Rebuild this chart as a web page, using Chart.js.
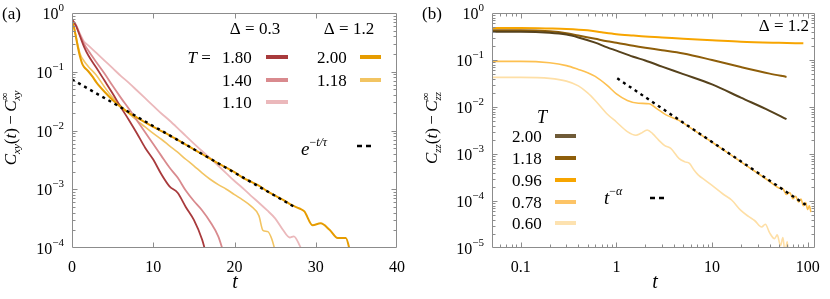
<!DOCTYPE html>
<html>
<head>
<meta charset="utf-8">
<script src="https://cdn.jsdelivr.net/npm/chart.js@4.4.0/dist/chart.umd.min.js"></script>
<style>
  html, body { margin: 0; padding: 0; background: #fff; }
  #wrap { position: relative; width: 830px; height: 299px; }
  #wrap canvas { position: absolute; top: 0; }
  #chartA { left: 0; }
  #chartB { left: 415px; }
</style>
</head>
<body>
<div id="wrap">
  <canvas id="chartA" width="415" height="299"></canvas>
  <canvas id="chartB" width="415" height="299"></canvas>
</div>
<script>
// ---- Panel (a): C_xy(t) - C_xy^inf vs t (lin-log) ----
const tA_180 = [0, 0.5, 1, 1.5, 2, 3, 4, 5, 6, 7, 8, 9, 10, 11, 12, 13, 14, 15, 16, 16.6];
const cA_180 = [0.776, 0.603, 0.398, 0.263, 0.191, 0.117, 0.0708, 0.0427, 0.0251, 0.0151, 0.0089, 0.0051, 0.0032, 0.0018, 0.00112, 0.00087, 0.0005, 0.0003, 0.000141, 0.000071];

const tA_140 = [0, 0.5, 1, 1.5, 2, 3, 4, 5, 6, 7, 8, 9, 10, 11, 12, 13, 14, 15, 16, 17, 18, 18.6, 19.2];
const cA_140 = [0.776, 0.603, 0.417, 0.295, 0.229, 0.145, 0.0933, 0.0575, 0.0363, 0.0234, 0.0148, 0.0093, 0.0059, 0.0037, 0.00234, 0.00158, 0.00095, 0.00063, 0.00044, 0.00028, 0.000158, 0.000089, 0.00005];

const tA_110 = [0, 0.5, 1, 1.5, 2, 3, 4, 5, 6, 7, 8, 9, 10, 11, 12, 13, 14, 15, 16, 17, 18, 19, 20, 21, 22, 23, 24, 25, 26, 26.8, 27.3, 28, 28.6];
const cA_110 = [0.776, 0.631, 0.437, 0.324, 0.282, 0.209, 0.155, 0.115, 0.0851, 0.0646, 0.0479, 0.0355, 0.0263, 0.0195, 0.0148, 0.011, 0.0081, 0.006, 0.00447, 0.00339, 0.00251, 0.00186, 0.00138, 0.00105, 0.00078, 0.00059, 0.00044, 0.00032, 0.0002, 0.000151, 0.000158, 0.000112, 0.000071];

const tA_200 = [0, 0.25, 0.5, 0.75, 1, 1.25, 1.5, 2, 2.5, 3, 4, 5, 6, 7, 8, 9, 10, 11, 12, 13, 14, 15, 16, 17, 18, 19, 20, 21, 22, 23, 24, 25, 26, 27, 28, 28.6, 29.6, 30.6, 31.7, 32.7, 33.7, 34.3];
const cA_200 = [0.724, 0.562, 0.38, 0.251, 0.178, 0.138, 0.12, 0.102, 0.0832, 0.0661, 0.0457, 0.0331, 0.0251, 0.02, 0.0166, 0.0138, 0.0115, 0.0098, 0.0083, 0.0069, 0.00575, 0.00479, 0.00398, 0.00331, 0.00275, 0.00234, 0.00195, 0.00158, 0.00135, 0.00115, 0.00093, 0.00078, 0.00066, 0.00054, 0.00047, 0.00042, 0.000245, 0.000263, 0.000204, 0.000148, 0.000148, 0.000079];

const tA_118 = [0, 0.25, 0.5, 0.75, 1, 1.5, 2, 3, 4, 5, 6, 7, 8, 9, 10, 11, 12, 13, 14, 15, 16, 17, 18, 19, 20, 21, 22, 23, 23.5, 24.1, 24.6, 25.1];
const cA_118 = [0.724, 0.575, 0.398, 0.275, 0.2, 0.151, 0.123, 0.0871, 0.055, 0.0363, 0.0263, 0.0195, 0.0148, 0.0115, 0.0089, 0.0071, 0.0055, 0.00427, 0.00324, 0.00251, 0.0019, 0.00148, 0.0012, 0.001, 0.00081, 0.00066, 0.00052, 0.000355, 0.0002, 0.00019, 0.000141, 0.000079];

// exponential fit e^{-t/tau}
const tA_fit = [0, 27.6];
const cA_fit = [0.074, 0.00048];

const xTicksA = [0, 10, 20, 30, 40];
const yTicksA = [1e-4, 1e-3, 1e-2, 1e-1, 1];
const yTickExpA = ['−4', '−3', '−2', '−1', '0'];

// ---- Panel (b): C_zz(t) - C_zz^inf vs t (log-log), Delta = 1.2 ----
const tB_200 = [0.05, 0.1, 0.2, 0.3, 0.4, 0.6, 0.8, 1, 1.5, 2, 3, 5, 10, 20, 40, 60];
const cB_200 = [0.398, 0.398, 0.38, 0.347, 0.302, 0.234, 0.186, 0.158, 0.117, 0.0977, 0.0724, 0.0501, 0.0302, 0.0158, 0.0083, 0.0055];

const tB_118 = [0.05, 0.1, 0.2, 0.3, 0.4, 0.6, 0.8, 1, 1.5, 2, 3, 5, 10, 20, 40, 60];
const cB_118 = [0.427, 0.427, 0.407, 0.372, 0.331, 0.282, 0.251, 0.234, 0.2, 0.182, 0.162, 0.138, 0.1, 0.0708, 0.0513, 0.0437];

const tB_096 = [0.05, 0.1, 0.2, 0.3, 0.5, 0.7, 1, 1.5, 2, 3, 5, 10, 20, 50, 90];
const cB_096 = [0.479, 0.479, 0.468, 0.457, 0.427, 0.389, 0.355, 0.331, 0.316, 0.302, 0.282, 0.263, 0.245, 0.232, 0.226];

const tB_078 = [0.05, 0.1, 0.2, 0.3, 0.4, 0.5, 0.6, 0.8, 1, 1.3, 1.7, 2.2, 2.6, 3.3, 4.5, 6, 8, 10, 15, 20, 30, 40, 50, 55, 60, 65, 70, 75, 80, 85, 90, 95, 100, 104, 108];
const cB_078 = [0.0933, 0.0933, 0.0871, 0.0759, 0.0631, 0.0537, 0.0447, 0.0288, 0.019, 0.0138, 0.012, 0.0117, 0.0095, 0.0068, 0.0052, 0.00355, 0.0024, 0.00178, 0.00102, 0.00068, 0.00039, 0.00026, 0.00019, 0.000182, 0.000138, 0.000151, 0.000112, 0.000126, 0.000095, 0.00011, 0.000079, 0.000093, 0.000066, 0.000079, 0.000058];

const tB_060 = [0.05, 0.1, 0.2, 0.3, 0.4, 0.5, 0.6, 0.8, 1, 1.3, 1.6, 1.8, 2.1, 2.4, 2.75, 3.2, 3.7, 4.5, 5.2, 5.8, 6.5, 7.2, 8.5, 10, 13, 16, 20, 24, 28, 33, 36, 40, 45, 48, 52, 55, 58, 61, 64];
const cB_060 = [0.0427, 0.0427, 0.0407, 0.0355, 0.0282, 0.02, 0.0138, 0.0071, 0.0048, 0.003, 0.00251, 0.00275, 0.00324, 0.00269, 0.002, 0.00151, 0.00132, 0.00081, 0.00068, 0.00063, 0.00045, 0.000355, 0.000275, 0.000214, 0.000141, 0.000105, 0.000063, 0.000047, 0.000038, 0.000028, 0.000032, 0.000021, 0.0000158, 0.000019, 0.0000112, 0.0000166, 0.0000079, 0.0000138, 0.000005];

// power-law fit t^{-alpha}
const tB_fit = [1.02, 96];
const cB_fit = [0.0407, 0.000082];

const xTicksB = [0.1, 1, 10, 100];
const xTickLabelsB = ['0.1', '1', '10', '100'];
const yTicksB = [1e-5, 1e-4, 1e-3, 1e-2, 1e-1, 1];
const yTickExpB = ['−5', '−4', '−3', '−2', '−1', '0'];

// ---- styling ----
const SERIF = '"Liberation Serif", "DejaVu Serif", serif';
const font = (size, style) => (style ? style + ' ' : '') + size + 'px ' + SERIF;
const AXIS_GRAY = '#8c8c8c';

const seriesA = [
    { t: tA_fit, v: cA_fit, color: '#000000', width: 2.4, dash: [3, 4] },
    { t: tA_200, v: cA_200, color: '#e69c00', width: 2 },
    { t: tA_180, v: cA_180, color: '#a83a3c', width: 1.8 },
    { t: tA_140, v: cA_140, color: '#d98a8e', width: 1.8 },
    { t: tA_118, v: cA_118, color: '#f2c462', width: 1.6 },
    { t: tA_110, v: cA_110, color: '#ebb8bb', width: 1.8 }
];

const seriesB = [
    { t: tB_fit, v: cB_fit, color: '#000000', width: 2.4, dash: [3, 4] },
    { t: tB_078, v: cB_078, color: '#fdc050', width: 1.6 },
    { t: tB_200, v: cB_200, color: '#56421c', width: 2 },
    { t: tB_118, v: cB_118, color: '#8e5e0a', width: 2 },
    { t: tB_096, v: cB_096, color: '#f7a500', width: 2 },
    { t: tB_060, v: cB_060, color: '#fedfa6', width: 1.6 }
];

function logMinors(lo, hi) {
    const out = [];
    for (let d = Math.floor(Math.log10(lo)); d <= Math.ceil(Math.log10(hi)); d++) {
        for (let k = 2; k <= 9; k++) {
            const v = k * Math.pow(10, d);
            if (v > lo && v < hi) out.push(v);
        }
    }
    return out;
}

// text with sub/superscripts; part.stack places it over the previous part
function drawRich(ctx, parts, x, y, align) {
    const pos = [];
    let cursor = 0, lastStart = 0, lastW = 0;
    parts.forEach(p => {
        ctx.font = p.f;
        const w = ctx.measureText(p.t).width;
        if (p.stack) {
            pos.push(lastStart);
            lastW = Math.max(lastW, w);
            cursor = lastStart + lastW;
        } else {
            pos.push(cursor);
            lastStart = cursor;
            lastW = w;
            cursor += w;
        }
    });
    const x0 = align === 'right' ? x - cursor : align === 'center' ? x - cursor / 2 : x;
    parts.forEach((p, i) => {
        ctx.font = p.f;
        ctx.fillText(p.t, x0 + pos[i], y + (p.dy || 0));
    });
    return cursor;
}

function drawFrame(chart, xMajor, xMinor, yMajor, yMinor) {
    const { ctx, chartArea: a } = chart;
    const sx = chart.scales.x, sy = chart.scales.y;
    const L = Math.round(a.left) + 0.5, R = Math.round(a.right) - 0.5;
    const T = Math.round(a.top) + 0.5, B = Math.round(a.bottom) - 0.5;
    ctx.save();
    ctx.strokeStyle = AXIS_GRAY;
    ctx.lineWidth = 1;
    ctx.beginPath();
    ctx.rect(L, T, R - L, B - T);
    const vt = (vals, len) => vals.forEach(v => {
        const p = Math.round(sx.getPixelForValue(v)) + 0.5;
        if (p <= L + 1 || p >= R - 1) return;
        ctx.moveTo(p, B); ctx.lineTo(p, B - len);
        ctx.moveTo(p, T); ctx.lineTo(p, T + len);
    });
    const ht = (vals, len) => vals.forEach(v => {
        const p = Math.round(sy.getPixelForValue(v)) + 0.5;
        if (p <= T + 1 || p >= B - 1) return;
        ctx.moveTo(L, p); ctx.lineTo(L + len, p);
        ctx.moveTo(R, p); ctx.lineTo(R - len, p);
    });
    vt(xMajor, 5); vt(xMinor, 3);
    ht(yMajor, 5); ht(yMinor, 3);
    ctx.stroke();
    ctx.restore();
}

function drawYLabels(chart, ticks, exps) {
    const { ctx, chartArea: a } = chart;
    ctx.save();
    ctx.fillStyle = '#000';
    ctx.textBaseline = 'alphabetic';
    ticks.forEach((v, i) => {
        const p = chart.scales.y.getPixelForValue(v);
        drawRich(ctx, [
            { t: '10', f: font(16) },
            { t: exps[i], f: font(11), dy: -8 }
        ], a.left - 8, p + 6, 'right');
    });
    ctx.restore();
}

function drawYTitle(ctx, cx, cy, sub) {
    ctx.save();
    ctx.fillStyle = '#000';
    ctx.translate(cx, cy);
    ctx.rotate(-Math.PI / 2);
    drawRich(ctx, [
        { t: 'C', f: font(17, 'italic') },
        { t: sub, f: font(11, 'italic'), dy: 4 },
        { t: '(', f: font(17) },
        { t: 't', f: font(17, 'italic') },
        { t: ')\u2009−\u2009', f: font(17) },
        { t: 'C', f: font(17, 'italic') },
        { t: '∞', f: font(11), dy: -8 },
        { t: sub, f: font(11, 'italic'), dy: 4, stack: true }
    ], 0, 5, 'center');
    ctx.restore();
}

function legendLine(ctx, x1, x2, y, color, width, dash) {
    ctx.save();
    ctx.strokeStyle = color;
    ctx.lineWidth = width;
    ctx.setLineDash(dash || []);
    ctx.beginPath();
    ctx.moveTo(x1, y);
    ctx.lineTo(x2, y);
    ctx.stroke();
    ctx.restore();
}

function toDatasets(series) {
    return series.map(s => ({
        data: s.t.map((t, i) => ({ x: t, y: s.v[i] })),
        borderColor: s.color,
        borderWidth: s.width,
        borderDash: s.dash || [],
        pointRadius: 0,
        fill: false,
        cubicInterpolationMode: 'monotone'
    }));
}

function baseOptions(xScale, yMin, yMax, padRight) {
    return {
        responsive: false,
        animation: false,
        events: [],
        layout: { padding: { left: 0, right: padRight, top: 13, bottom: 0 } },
        plugins: { legend: { display: false }, tooltip: { enabled: false } },
        scales: {
            x: Object.assign({
                grid: { display: false, drawTicks: false },
                border: { display: false },
                afterFit(scale) { scale.height = 51; }
            }, xScale),
            y: {
                type: 'logarithmic',
                min: yMin,
                max: yMax,
                grid: { display: false, drawTicks: false },
                border: { display: false },
                ticks: { display: false },
                afterFit(scale) { scale.width = 0; }
            }
        }
    };
}

// ---- chart (a) ----
const optsA = baseOptions({
    type: 'linear',
    min: 0,
    max: 40,
    ticks: { stepSize: 10, color: '#000', padding: 10, font: { family: SERIF, size: 16 } },
    afterBuildTicks(axis) { axis.ticks = xTicksA.map(v => ({ value: v })); }
}, 1e-4, 1, 17);
optsA.scales.y.afterFit = scale => { scale.width = 72; };

const decorA = {
    id: 'decorA',
    afterDatasetsDraw(chart) {
        drawFrame(chart, xTicksA, [], yTicksA, logMinors(1e-4, 1));
    },
    afterDraw(chart) {
        const ctx = chart.ctx;
        drawYLabels(chart, yTicksA, yTickExpA);
        drawYTitle(ctx, 11, 128, 'xy');
        ctx.save();
        ctx.fillStyle = '#000';
        ctx.font = font(17);
        ctx.fillText('(a)', 2, 19);
        ctx.font = font(20, 'italic');
        ctx.textAlign = 'center';
        ctx.fillText('t', 235, 288);
        ctx.textAlign = 'left';
        // legend header
        drawRich(ctx, [{ t: 'Δ = 0.3', f: font(17) }], 255, 34, 'center');
        drawRich(ctx, [{ t: 'Δ = 1.2', f: font(17) }], 349, 34, 'center');
        drawRich(ctx, [{ t: 'T', f: font(17, 'italic') }, { t: ' = ', f: font(17) }], 215, 63, 'right');
        const rowsY = [57, 80, 102];
        const leftRows = [['1.80', '#a83a3c'], ['1.40', '#d98a8e'], ['1.10', '#ebb8bb']];
        leftRows.forEach((r, i) => {
            ctx.font = font(17);
            ctx.fillText(r[0], 222, rowsY[i] + 6);
            legendLine(ctx, 266, 288, rowsY[i], r[1], 4);
        });
        const rightRows = [['2.00', '#e69c00'], ['1.18', '#f2c462']];
        rightRows.forEach((r, i) => {
            ctx.font = font(17);
            ctx.fillText(r[0], 317, rowsY[i] + 6);
            legendLine(ctx, 360, 381, rowsY[i], r[1], 4);
        });
        drawRich(ctx, [
            { t: 'e', f: font(19, 'italic') },
            { t: '−', f: font(12), dy: -9 },
            { t: 't/τ', f: font(12, 'italic'), dy: -9 }
        ], 301, 155, 'left');
        legendLine(ctx, 357, 371, 146, '#000', 2.4, [5, 4]);
        ctx.restore();
    }
};

new Chart(document.getElementById('chartA'), {
    type: 'line',
    data: { datasets: toDatasets(seriesA) },
    options: optsA,
    plugins: [decorA]
});

// ---- chart (b) ----
const optsB = baseOptions({
    type: 'logarithmic',
    min: 0.05,
    max: 120,
    ticks: {
        color: '#000', padding: 10, font: { family: SERIF, size: 16 },
        callback: (value, index) => xTickLabelsB[index]
    },
    afterBuildTicks(axis) { axis.ticks = xTicksB.map(v => ({ value: v })); }
}, 1e-5, 1, 12);
optsB.scales.y.afterFit = scale => { scale.width = 77; };

const decorB = {
    id: 'decorB',
    afterDatasetsDraw(chart) {
        drawFrame(chart, xTicksB, logMinors(0.05, 120), yTicksB, logMinors(1e-5, 1));
    },
    afterDraw(chart) {
        const ctx = chart.ctx;
        drawYLabels(chart, yTicksB, yTickExpB);
        drawYTitle(ctx, 17, 128, 'zz');
        ctx.save();
        ctx.fillStyle = '#000';
        ctx.font = font(17);
        ctx.fillText('(b)', 7, 19);
        ctx.font = font(20, 'italic');
        ctx.textAlign = 'center';
        ctx.fillText('t', 240, 288);
        ctx.textAlign = 'left';
        drawRich(ctx, [{ t: 'Δ = 1.2', f: font(17) }], 394, 31, 'right');
        ctx.font = font(18, 'italic');
        ctx.fillText('T', 122, 123);
        const rows = [['2.00', '#6f5b38'], ['1.18', '#8e5e0a'], ['0.96', '#f7a500'], ['0.78', '#fdc466'], ['0.60', '#fde2b0']];
        const rowsY = [136, 158, 180, 202, 223];
        rows.forEach((r, i) => {
            ctx.font = font(17);
            ctx.fillText(r[0], 97, rowsY[i] + 6);
            legendLine(ctx, 140, 161, rowsY[i], r[1], 4);
        });
        drawRich(ctx, [
            { t: 't', f: font(19, 'italic') },
            { t: '−', f: font(12), dy: -9 },
            { t: 'α', f: font(12, 'italic'), dy: -9 }
        ], 189, 204, 'left');
        legendLine(ctx, 235, 249, 198, '#000', 2.4, [5, 4]);
        ctx.restore();
    }
};

new Chart(document.getElementById('chartB'), {
    type: 'line',
    data: { datasets: toDatasets(seriesB) },
    options: optsB,
    plugins: [decorB]
});
</script>
</body>
</html>
